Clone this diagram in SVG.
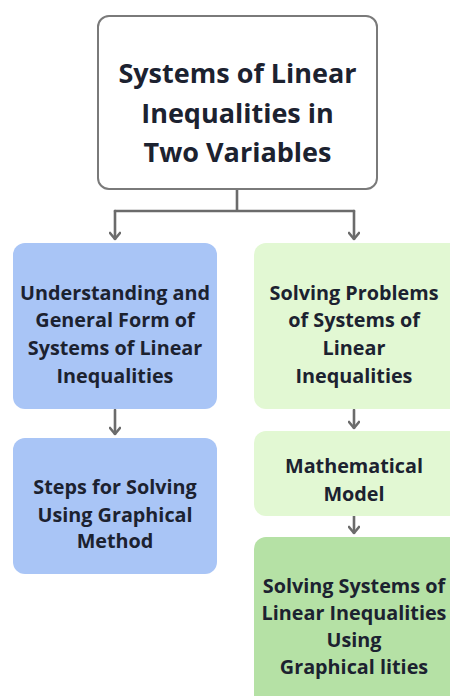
<svg xmlns="http://www.w3.org/2000/svg" width="450" height="696" viewBox="0 0 450 696">
<style>
.t{font-family:"Open Sans","Liberation Sans",sans-serif;font-weight:700;fill:#1c2230;text-anchor:middle}
.s{font-size:19.8px}
.c{fill:none;stroke:#6b6b6b;stroke-width:2.6;stroke-linecap:round;stroke-linejoin:round}
</style>
<defs>
<marker id="ah" viewBox="0 0 12 10" refX="6" refY="9" markerWidth="12" markerHeight="10" markerUnits="userSpaceOnUse" orient="0">
<path d="M1,3 L6,9 L11,3" fill="none" stroke="#6b6b6b" stroke-width="2.6" stroke-linecap="round" stroke-linejoin="round"/>
</marker>
</defs>
<rect width="450" height="696" fill="#ffffff"/>
<g id="connectors">
<path class="c" d="M237,189 V211 M115,211 H354"/>
<path class="c" d="M115,211 V239" marker-end="url(#ah)"/>
<path class="c" d="M354,211 V239" marker-end="url(#ah)"/>
<path class="c" d="M115,410 V434" marker-end="url(#ah)"/>
<path class="c" d="M354,410 V428" marker-end="url(#ah)"/>
<path class="c" d="M354,516 V533" marker-end="url(#ah)"/>
</g>
<g id="root">
<rect x="98" y="16" width="279" height="173" rx="11" fill="#ffffff" stroke="#7a7a7a" stroke-width="2"/>
<text class="t" x="237.5" y="83" font-size="27">Systems of Linear</text>
<text class="t" x="237.5" y="123" font-size="27">Inequalities in</text>
<text class="t" x="237.5" y="162" font-size="27">Two Variables</text>
</g>
<g id="understanding">
<rect x="13" y="243" width="204" height="166" rx="12" fill="#a9c5f6"/>
<text class="t s" x="115" y="300">Understanding and</text>
<text class="t s" x="115" y="327">General Form of</text>
<text class="t s" x="115" y="355">Systems of Linear</text>
<text class="t s" x="115" y="383">Inequalities</text>
</g>
<g id="steps">
<rect x="13" y="438" width="204" height="136" rx="12" fill="#a9c5f6"/>
<text class="t s" x="115" y="494">Steps for Solving</text>
<text class="t s" x="115" y="522">Using Graphical</text>
<text class="t s" x="115" y="548">Method</text>
</g>
<g id="solving-problems">
<rect x="254" y="243" width="210" height="166" rx="12" fill="#e2f8d3"/>
<text class="t s" x="354" y="300">Solving Problems</text>
<text class="t s" x="354" y="327">of Systems of</text>
<text class="t s" x="354" y="355">Linear</text>
<text class="t s" x="354" y="383">Inequalities</text>
</g>
<g id="math-model">
<rect x="254" y="431" width="210" height="85" rx="12" fill="#e2f8d3"/>
<text class="t s" x="354" y="473">Mathematical</text>
<text class="t s" x="354" y="501">Model</text>
</g>
<g id="solving-systems">
<rect x="254" y="537" width="210" height="175" rx="12" fill="#b5e1a5"/>
<text class="t s" x="354" y="593">Solving Systems of</text>
<text class="t s" x="354" y="620">Linear Inequalities</text>
<text class="t s" x="354" y="647">Using</text>
<text class="t s" x="354" y="674">Graphical lities</text>
</g>
</svg>
